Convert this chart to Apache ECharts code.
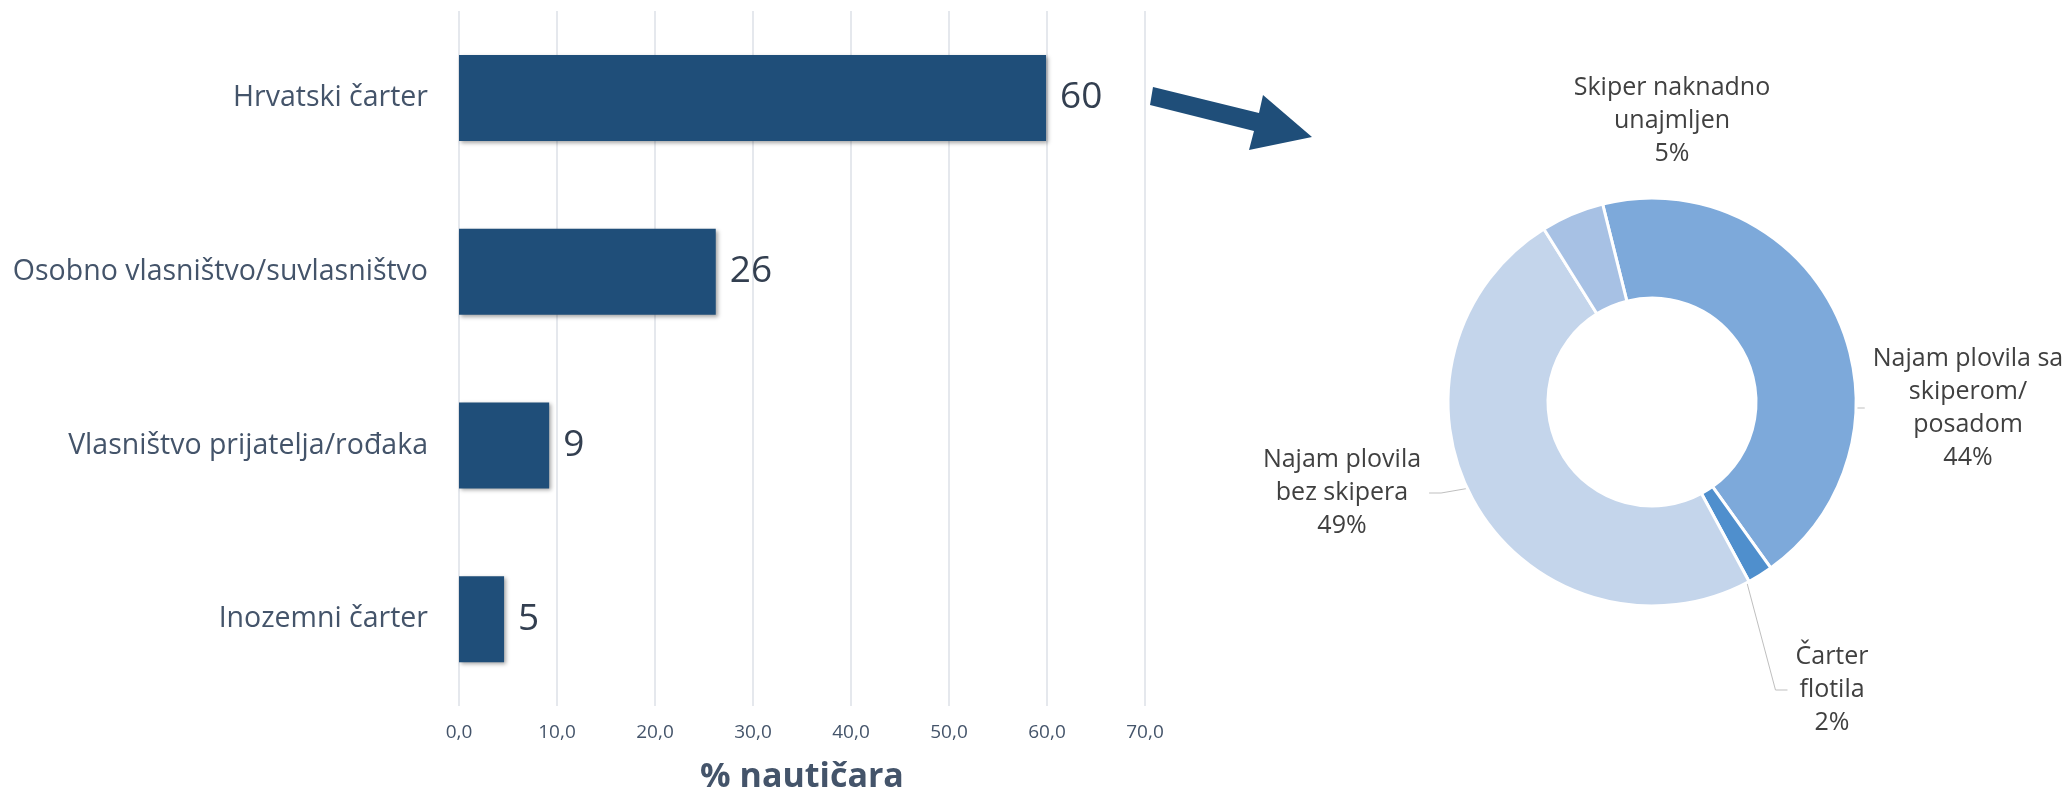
<!DOCTYPE html>
<html>
<head>
<meta charset="utf-8">
<script src="https://cdn.jsdelivr.net/npm/echarts@6/dist/echarts.min.js"></script>
<style>
  html, body { margin: 0; padding: 0; background: #fff; }
  #chart { width: 2066px; height: 799px; }
</style>
</head>
<body>
<div id="chart"></div>
<script>
// Bar: how nautical tourists got their vessel. Donut: breakdown of the
// "Hrvatski čarter" bar, linked by the arrow.

const barCategories = ['Hrvatski čarter', 'Osobno vlasništvo/suvlasništvo', 'Vlasništvo prijatelja/rođaka', 'Inozemni čarter'];
const barValues = [59.9, 26.2, 9.2, 4.6];
const xTicks = { min: 0, max: 70, interval: 10 };

const donutNames = ['Najam plovila sa skiperom/posadom', 'Čarter flotila', 'Najam plovila bez skipera', 'Skiper naknadno unajmljen'];
const donutLabels = ['Najam plovila sa\nskiperom/\nposadom', 'Čarter\nflotila', 'Najam plovila\nbez skipera', 'Skiper naknadno\nunajmljen'];
const donutValues = [44, 2, 49, 5];
const donutColors = ['#7DA9DA', '#4F8FCD', '#C4D5EB', '#A7C1E4'];

const FONT = '"Open Sans", "DejaVu Sans", sans-serif';
const TEXT2 = '#44546A';

const PIE_CENTER = [1652, 402];
const PIE_RADIUS = [104, 204];
// where Excel put each donut label (centre of the text block)
const donutLabelPos = [[1968, 408], [1832, 690], [1342, 493], [1672, 121]];

// Excel-style leader: starts mid-ring, short horizontal stub into the label side
function donutLabelLayout(p) {
  const [x, y] = donutLabelPos[p.dataIndex];
  const out = { x, y, align: 'center', verticalAlign: 'middle' };
  const pts = p.labelLinePoints;
  if (!pts || !pts.length || !p.labelRect) return out;
  const k = (PIE_RADIUS[0] + PIE_RADIUS[1]) / 2 / PIE_RADIUS[1];
  const start = [
    PIE_CENTER[0] + (pts[0][0] - PIE_CENTER[0]) * k,
    PIE_CENTER[1] + (pts[0][1] - PIE_CENTER[1]) * k,
  ];
  const w = p.labelRect.width;
  const leftSide = x < PIE_CENTER[0];
  const endX = leftSide ? x + w / 2 + 8 : x - w / 2 - 8;
  const bendX = leftSide ? endX + 12 : endX - 12;
  out.labelLinePoints = [start, [bendX, y], [endX, y]];
  return out;
}

const chart = echarts.init(document.getElementById('chart'), null, { renderer: 'canvas' });

chart.setOption({
  backgroundColor: '#ffffff',
  animation: false,
  textStyle: { fontFamily: FONT },
  grid: { left: 459, right: 921, top: 11, bottom: 91 },
  xAxis: {
    type: 'value',
    min: xTicks.min,
    max: xTicks.max,
    interval: xTicks.interval,
    name: '% nautičara',
    nameLocation: 'middle',
    nameGap: 54,
    nameTextStyle: { color: TEXT2, fontSize: 34, fontWeight: 'bold', fontFamily: FONT },
    axisLine: { show: false },
    axisTick: { show: false },
    axisLabel: {
      color: TEXT2,
      fontSize: 19,
      margin: 17,
      fontFamily: FONT,
      formatter: (v) => v.toFixed(1).replace('.', ','),
    },
    splitLine: { show: true, lineStyle: { color: '#DCE0E7', width: 1.5 } },
  },
  yAxis: {
    type: 'category',
    inverse: true,
    data: barCategories,
    axisLine: { show: false },
    axisTick: { show: false },
    axisLabel: { color: TEXT2, fontSize: 28.5, margin: 31, fontFamily: FONT },
    splitLine: { show: false },
  },
  series: [
    {
      type: 'bar',
      data: barValues,
      barWidth: 86,
      itemStyle: {
        color: '#1F4E79',
        shadowColor: 'rgba(0, 0, 0, 0.35)',
        shadowBlur: 4,
        shadowOffsetX: 2,
        shadowOffsetY: 2,
      },
      label: {
        show: true,
        position: 'right',
        distance: 14,
        color: '#333F50',
        fontSize: 37,
        fontFamily: FONT,
        formatter: (p) => String(Math.round(p.value)),
      },
    },
    {
      type: 'pie',
      center: PIE_CENTER,
      radius: PIE_RADIUS,
      startAngle: 104,
      clockwise: true,
      avoidLabelOverlap: false,
      itemStyle: { borderColor: '#ffffff', borderWidth: 3 },
      label: {
        show: true,
        position: 'outside',
        color: '#404040',
        fontSize: 25,
        lineHeight: 33,
        fontFamily: FONT,
        align: 'center',
        formatter: (p) => donutLabels[p.dataIndex] + '\n' + p.value + '%',
      },
      labelLine: { show: true, length: 10, length2: 10, lineStyle: { color: '#BFBFBF', width: 1 } },
      labelLayout: donutLabelLayout,
      emphasis: { disabled: true },
      data: donutNames.map((n, i) => ({
        name: n,
        value: donutValues[i],
        itemStyle: { color: donutColors[i] },
        labelLine: { show: i !== 3 },
      })),
    },
  ],
  graphic: [
    {
      type: 'polygon',
      shape: {
        points: [[1153, 87], [1259, 113], [1263, 95], [1312, 137], [1249, 150], [1254, 131], [1150, 105]],
      },
      style: { fill: '#1F4E79' },
    },
  ],
});
</script>
</body>
</html>
